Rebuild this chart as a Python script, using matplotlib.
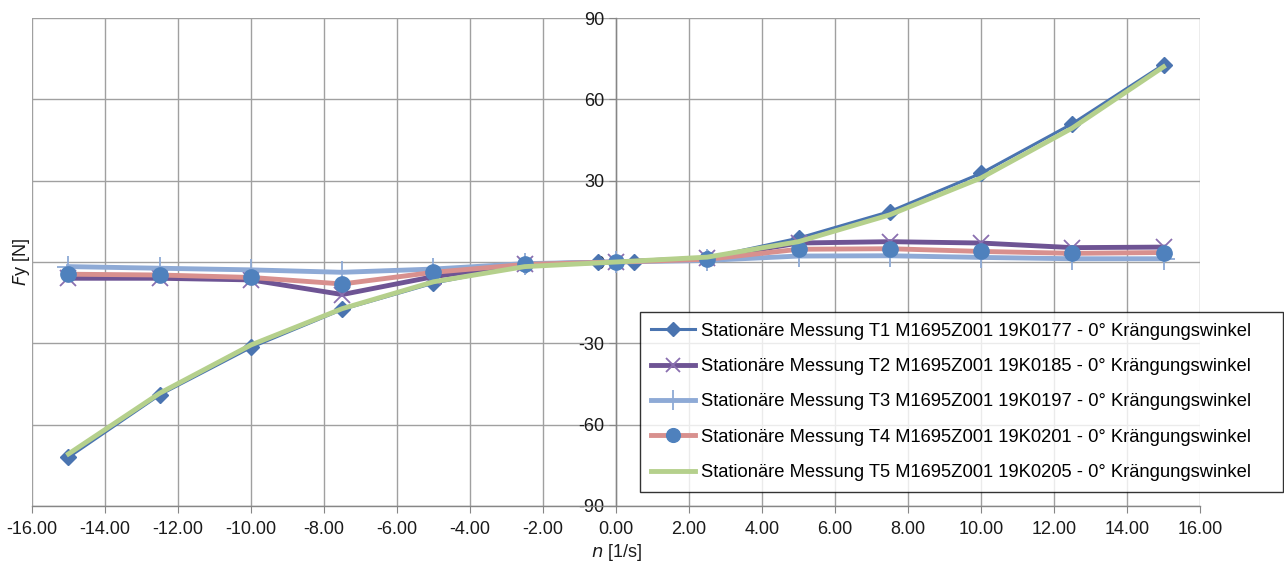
import matplotlib
matplotlib.use("Agg")
import matplotlib.pyplot as plt

plt.rcParams['font.family'] = ['Liberation Sans', 'DejaVu Sans']
plt.rcParams['axes.unicode_minus'] = False

# drehzahl n [1/s]
n_t1 = [-15, -12.5, -10, -7.5, -5, -2.5, -0.5, 0.5, 2.5, 5, 7.5, 10, 12.5, 15]
n_all = [-15, -12.5, -10, -7.5, -5, -2.5, 0, 2.5, 5, 7.5, 10, 12.5, 15]

# Fy [N]
fy_t1 = [-72, -49, -31.5, -17.5, -7.8, -1.2, 0, 0, 1.5, 8.8, 18.6, 32.7, 51, 72.8]
fy_t2 = [-6, -6, -6.6, -12, -5.4, -0.8, 0, 1.4, 7, 7.5, 7, 5.3, 5.5]
fy_t3 = [-1.7, -2.3, -2.9, -3.8, -2.6, -0.6, 0, 0.6, 2.2, 2.3, 1.7, 1.2, 1.2]
fy_t4 = [-4.5, -4.8, -5.7, -8.1, -3.8, -0.9, 0, 1.0, 4.7, 4.9, 3.9, 3.2, 3.5]
fy_t5 = [-70.8, -48.4, -30.6, -17.2, -7.3, -1.7, 0, 1.8, 7.5, 17.4, 31, 49.4, 72]

labels = [
    "Stationäre Messung T1 M1695Z001 19K0177 - 0° Krängungswinkel",
    "Stationäre Messung T2 M1695Z001 19K0185 - 0° Krängungswinkel",
    "Stationäre Messung T3 M1695Z001 19K0197 - 0° Krängungswinkel",
    "Stationäre Messung T4 M1695Z001 19K0201 - 0° Krängungswinkel",
    "Stationäre Messung T5 M1695Z001 19K0205 - 0° Krängungswinkel",
]

fig = plt.figure(figsize=(12.84, 5.72), dpi=100)
ax = fig.add_axes([0.0249, 0.1154, 0.9097, 0.8531])

ax.plot(n_t1, fy_t1, color='#4a74b0', lw=2.2, marker='D', ms=8,
        mfc='#4a74b0', mec='#4a74b0', label=labels[0], zorder=3)
ax.plot(n_all, fy_t2, color='#6e5494', lw=3.5, marker='x', ms=11, mew=1.3,
        mec='#8a6fb0', label=labels[1], zorder=4)
ax.plot(n_all, fy_t3, color='#8eaad6', lw=3.5, marker='+', ms=16, mew=1.3,
        mec='#8eaad6', label=labels[2], zorder=5)
ax.plot(n_all, fy_t4, color='#d8908e', lw=3.5, marker='o', ms=11,
        mfc='#4f81bd', mec='#4f81bd', label=labels[3], zorder=6)
ax.plot(n_all, fy_t5, color='#b5d08c', lw=3.5, label=labels[4], zorder=7)

ax.set_xlim(-16, 16)
ax.set_ylim(-90, 90)
ax.set_xticks(range(-16, 17, 2))
ax.set_xticklabels(["%.2f" % v for v in range(-16, 17, 2)])
ax.set_yticks(range(-90, 91, 30))

ax.grid(True, color='#a0a0a0', lw=1.0)
ax.set_axisbelow(True)

ax.spines['left'].set_position(('data', 0))
for s in ['left', 'bottom']:
    ax.spines[s].set_color('#868686')
    ax.spines[s].set_linewidth(1.0)
ax.spines['top'].set_visible(False)
ax.spines['right'].set_visible(False)

ax.tick_params(axis='both', colors='#868686', labelcolor='#1a1a1a',
               labelsize=13, length=5, direction='out')
ax.tick_params(axis='x', pad=6)

fig.text(0.0165, 0.5425, r"$F$y [N]", rotation=90, ha='center', va='center',
         fontsize=13, color='#1a1a1a')
fig.text(0.4805, 0.015, r"$n$ [1/s]", ha='center', va='bottom',
         fontsize=13, color='#1a1a1a')

leg = fig.legend(loc='lower left', bbox_to_anchor=(0.4984, 0.1399, 0.5008, 0.3216),
                 mode='expand', fontsize=13.2, frameon=True, fancybox=False,
                 labelspacing=1.0, handlelength=2.4, handletextpad=0.35,
                 borderpad=0.6, borderaxespad=0, markerscale=0.9)
leg.get_frame().set_edgecolor('#000000')
leg.get_frame().set_linewidth(1.0)
leg.set_zorder(10)

fig.savefig("out.png", dpi=100)
